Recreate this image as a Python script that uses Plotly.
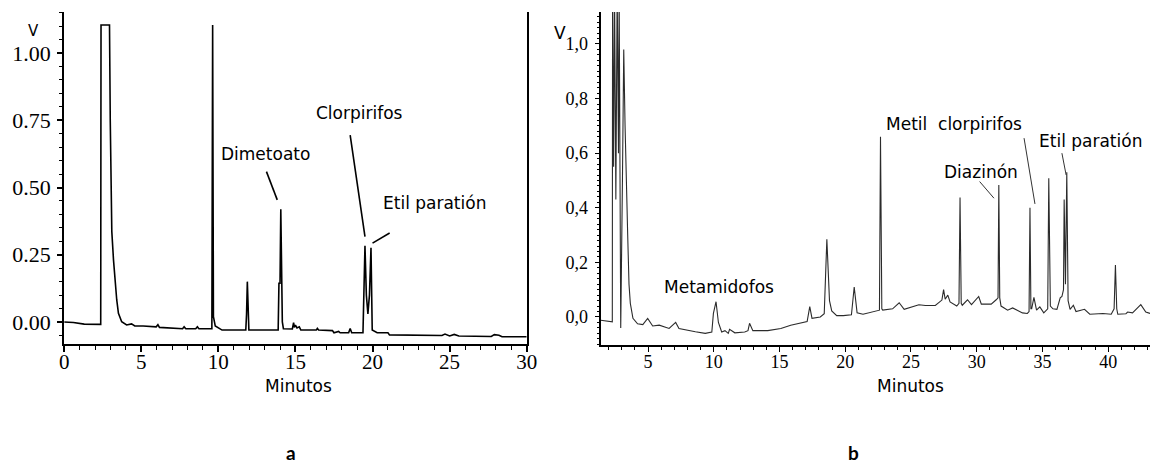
import plotly.graph_objects as go

W, H = 1161, 469

# ---------------- data: panel a ----------------
time_a = [0.0, 0.6, 1.3, 2.37, 2.39, 2.45, 2.94, 2.99, 3.03, 3.09,
          3.2, 3.3, 3.41, 3.52, 3.73, 4.05, 4.37, 4.58, 5.12, 5.97,
          6.08, 6.18, 7.68, 7.78, 7.89, 8.53, 8.64, 8.74, 9.58, 9.63,
          9.68, 9.8, 10.24, 11.78, 11.83, 11.88, 11.93, 11.98, 13.1, 13.88,
          13.93, 14.0, 14.05, 14.1, 14.15, 14.22, 14.8, 14.88, 14.93, 15.0,
          15.1, 15.25, 15.35, 16.35, 16.42, 16.5, 17.4, 17.5, 17.8, 17.9,
          18.45, 18.55, 18.65, 19.38, 19.45, 19.51, 19.6, 19.7, 19.8, 19.9,
          19.98, 20.3, 21.0, 21.1, 24.5, 24.7, 25.0, 25.3, 25.6, 27.7,
          27.9, 28.2, 28.4, 30.0]
signal_a = [0.0, -0.002, -0.008, -0.009, 1.104, 1.104, 1.104, 0.745, 0.5, 0.336,
            0.23, 0.144, 0.082, 0.032, 0.001, -0.011, -0.007, -0.015, -0.015, -0.018,
            -0.01, -0.02, -0.025, -0.018, -0.025, -0.025, -0.018, -0.025, -0.025, 1.104,
            0.02, -0.015, -0.03, -0.03, 0.03, 0.15, 0.03, -0.03, -0.03, -0.03,
            0.144, 0.144, 0.419, 0.23, 0.0, -0.025, -0.026, -0.002, -0.02, -0.012,
            -0.022, -0.018, -0.03, -0.03, -0.024, -0.03, -0.032, -0.04, -0.035, -0.04,
            -0.04, -0.024, -0.04, -0.04, 0.1, 0.283, 0.1, 0.03, 0.1, 0.276,
            -0.03, -0.04, -0.04, -0.048, -0.05, -0.045, -0.052, -0.046, -0.052, -0.054,
            -0.047, -0.049, -0.055, -0.055]

# ---------------- data: panel b ----------------
time_b = [1.4, 2.2, 2.28, 2.3, 2.38, 2.45, 2.55, 2.65, 2.75, 2.8,
          2.88, 2.92, 3.05, 3.15, 3.25, 3.35, 3.45, 3.55, 3.65, 3.85,
          4.2, 4.6, 4.97, 5.35, 5.85, 6.6, 6.85, 7.1, 7.35, 8.1,
          8.6, 9.35, 9.85, 9.97, 10.17, 10.35, 10.6, 10.85, 11.1, 11.2,
          11.6, 12.35, 12.6, 12.72, 12.97, 14.1, 15.1, 15.85, 16.85, 17.1,
          17.3, 17.47, 18.1, 18.4, 18.6, 18.8, 18.97, 19.35, 19.85, 20.47,
          20.68, 20.9, 21.35, 22.35, 22.6, 22.68, 22.78, 22.85, 23.6, 24.1,
          24.48, 25.6, 26.1, 26.85, 27.35, 27.48, 27.6, 27.8, 27.97, 28.48,
          28.65, 28.73, 28.82, 28.9, 29.3, 29.6, 30.15, 30.35, 31.1, 31.48,
          31.62, 31.68, 31.75, 31.85, 32.35, 32.73, 33.1, 33.48, 33.85, 33.98,
          34.05, 34.12, 34.18, 34.35, 34.55, 34.8, 35.1, 35.4, 35.48, 35.55,
          35.6, 35.8, 36.1, 36.35, 36.48, 36.6, 36.65, 36.75, 36.85, 36.95,
          37.1, 37.35, 37.55, 38.2, 38.6, 39.6, 40.23, 40.45, 40.55, 40.65,
          40.73, 41.35, 41.48, 41.85, 42.48, 42.86, 43.18]
signal_b = [-0.012, -0.018, -0.018, 1.2, 0.55, 1.2, 0.43, 1.2, 0.6, 1.2,
            0.3, -0.04, 0.5, 0.98, 0.7, 0.45, 0.3, 0.12, 0.05, -0.005,
            -0.025, -0.028, -0.005, -0.033, -0.03, -0.042, -0.03, -0.02, -0.042, -0.05,
            -0.054, -0.06, -0.055, 0.013, 0.056, -0.02, -0.055, -0.05, -0.06, -0.045,
            -0.058, -0.055, -0.05, -0.023, -0.05, -0.05, -0.042, -0.03, -0.02, -0.017,
            0.038, -0.005, 0.0, 0.012, 0.285, 0.06, 0.022, 0.005, 0.005, 0.008,
            0.11, 0.015, 0.01, 0.02, 0.025, 0.66, 0.03, 0.025, 0.03, 0.052,
            0.028, 0.045, 0.042, 0.042, 0.062, 0.1, 0.065, 0.08, 0.055, 0.04,
            0.05, 0.438, 0.05, 0.043, 0.063, 0.045, 0.075, 0.047, 0.047, 0.063,
            0.07, 0.483, 0.07, 0.04, 0.025, 0.033, 0.025, 0.015, 0.013, 0.02,
            0.40, 0.03, 0.03, 0.072, 0.025, 0.037, 0.015, 0.03, 0.508, 0.05,
            0.04, 0.03, 0.028, 0.07, 0.075, 0.1, 0.43, 0.12, 0.53, 0.06,
            0.028, 0.043, 0.02, 0.028, 0.01, 0.013, 0.01, 0.03, 0.19, 0.03,
            0.01, 0.012, 0.018, 0.015, 0.045, 0.018, 0.013]

# tick labels
xtick_a = [0, 5, 10, 15, 20, 25, 30]
ytick_a = [0.0, 0.25, 0.5, 0.75, 1.0]
ytick_a_text = ["0.00", "0.25", "0.50", "0.75", "1.00"]
xtick_b = [5, 10, 15, 20, 25, 30, 35, 40]
ytick_b = [0.0, 0.2, 0.4, 0.6, 0.8, 1.0]
ytick_b_text = ["0,0", "0,2", "0,4", "0,6", "0,8", "1,0"]

# peak labels
names_a = ["Dimetoato", "Clorpirifos", "Etil paratión"]
names_b = ["Metamidofos", "Metil  clorpirifos", "Diazinón", "Etil paratión"]


def px(x):
    return x / W


def py(y):
    return 1 - y / H


fig = go.Figure()
fig.add_trace(go.Scatter(x=time_a, y=signal_a, mode="lines",
                         line=dict(color="black", width=1.6), xaxis="x", yaxis="y",
                         showlegend=False, hoverinfo="skip"))
fig.add_trace(go.Scatter(x=time_b, y=signal_b, mode="lines",
                         line=dict(color="#2b2b2b", width=1.1), xaxis="x2", yaxis="y2",
                         showlegend=False, hoverinfo="skip"))

serif = "Liberation Serif"
sans = "DejaVu Sans"

axis_common = dict(showgrid=False, zeroline=False, showline=True, linecolor="black",
                   ticks="outside", tickcolor="black")

fig.update_layout(
    width=W, height=H, margin=dict(l=0, r=0, t=0, b=0),
    paper_bgcolor="white", plot_bgcolor="white",
    xaxis=dict(domain=[px(60), px(529)], range=[0, 30], anchor="y",
               tickvals=xtick_a, ticktext=[str(v) for v in xtick_a],
               ticklen=6, tickwidth=1.5, linewidth=2, ticklabelstandoff=-8,
               tickfont=dict(family=serif, size=21, color="black"),
               minor=dict(ticks="outside", dtick=1, ticklen=4, tickcolor="black", tickwidth=1),
               **axis_common),
    yaxis=dict(domain=[py(344), py(12)], range=[-0.0818, 1.1524], anchor="x",
               tickvals=ytick_a, ticktext=ytick_a_text, mirror=True,
               ticklen=5, tickwidth=1.5, linewidth=2, ticklabelstandoff=2,
               tickfont=dict(family=serif, size=22, color="black"),
               minor=dict(ticks="outside", dtick=0.05, ticklen=3, tickcolor="black", tickwidth=1),
               **axis_common),
    xaxis2=dict(domain=[px(604), 1.0], range=[1.395, 43.18], anchor="y2",
                tickvals=xtick_b, ticktext=[str(v) for v in xtick_b],
                ticklen=5, tickwidth=1.2, linewidth=2, ticklabelstandoff=-6,
                tickfont=dict(family=serif, size=18, color="black"),
                minor=dict(ticks="outside", dtick=1, ticklen=3, tickcolor="black", tickwidth=1),
                **axis_common),
    yaxis2=dict(domain=[py(345), py(12)], range=[-0.1026, 1.117], anchor="x2",
                tickvals=ytick_b, ticktext=ytick_b_text,
                ticklen=4, tickwidth=1.2, linewidth=2, ticklabelstandoff=3,
                tickfont=dict(family=serif, size=18, color="black"),
                minor=dict(ticks="outside", dtick=0.02, ticklen=2, tickcolor="black", tickwidth=1),
                **axis_common),
)

ann = []
# panel peak labels (data coordinates)
for name, (tx, ty) in zip(names_a, [(13.05, 0.625), (19.16, 0.777), (23.99, 0.442)]):
    ann.append(dict(x=tx, y=ty, xref="x", yref="y", text=name, showarrow=False,
                    xanchor="center", yanchor="middle",
                    font=dict(family=sans, size=17, color="black")))
for name, (tx, ty) in zip(names_b, [(10.43, 0.11), (28.29, 0.707), (30.32, 0.531), (38.64, 0.645)]):
    ann.append(dict(x=tx, y=ty, xref="x2", yref="y2", text=name, showarrow=False,
                    xanchor="center", yanchor="middle",
                    font=dict(family=sans, size=17, color="black")))


def paper_text(x, y, text, size, family=sans):
    return dict(x=px(x), y=py(y), xref="paper", yref="paper", text=text, showarrow=False,
                xanchor="center", yanchor="middle",
                font=dict(family=family, size=size, color="black"))


# axis titles and panel letters
ann += [
    paper_text(29, 31, "V", 15),
    paper_text(563, 33, "V", 17),
    paper_text(297.5, 386, "Minutos", 17),
    paper_text(918, 386, "Minutos", 17),
    paper_text(290, 452, "<b>a</b>", 19, "Lato"),
    paper_text(860, 452, "<b>b</b>", 19, "Lato"),
]
fig.update_layout(annotations=ann)

# leader lines
leaders_a = [((13.12, 0.559), (13.82, 0.454)),
             ((18.55, 0.695), (19.51, 0.317)),
             ((21.11, 0.331), (20.0, 0.293))]
leaders_b = [((30.22, 0.496), (31.31, 0.435)),
             ((33.6, 0.655), (34.43, 0.414)),
             ((36.48, 0.60), (36.8, 0.52))]
shapes = []
for (x0, y0), (x1, y1) in leaders_a:
    shapes.append(dict(type="line", xref="x", yref="y", x0=x0, y0=y0, x1=x1, y1=y1,
                       line=dict(color="black", width=1.6)))
for (x0, y0), (x1, y1) in leaders_b:
    shapes.append(dict(type="line", xref="x2", yref="y2", x0=x0, y0=y0, x1=x1, y1=y1,
                       line=dict(color="#333333", width=1)))
fig.update_layout(shapes=shapes)

fig.write_html("out.html")
